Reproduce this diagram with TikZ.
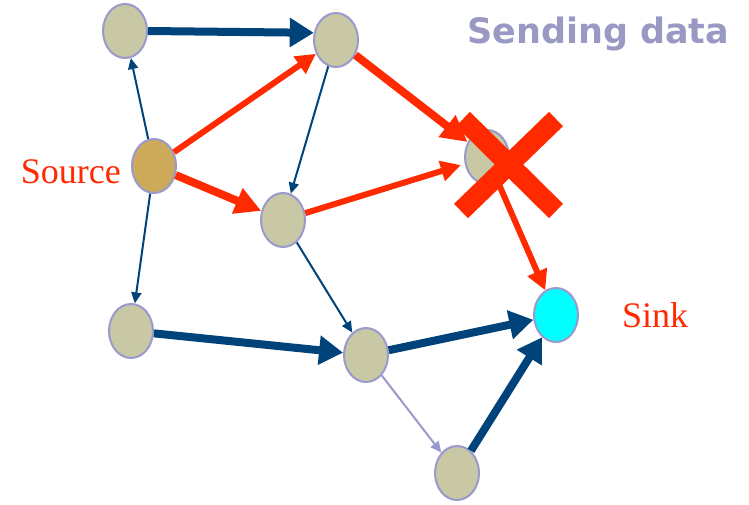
\documentclass[tikz,border=0pt]{standalone}
\usepackage{fontspec}
\setmainfont{Liberation Serif}
\newfontfamily\titlefont{DejaVu Sans}
\usetikzlibrary{arrows.meta,shapes.geometric}
\definecolor{nodefill}{RGB}{200,200,164}
\definecolor{nodeedge}{RGB}{153,153,204}
\definecolor{srcfill}{RGB}{204,170,90}
\definecolor{sinkfill}{RGB}{0,255,255}
\definecolor{darkblue}{RGB}{0,66,122}
\definecolor{redline}{RGB}{255,42,0}
\definecolor{titlecol}{RGB}{153,153,196}
\tikzset{
  vertex/.style={ellipse,draw=nodeedge,line width=2pt,fill=nodefill,minimum width=44pt,minimum height=54pt,inner sep=0pt},
  thickblue/.style={draw=darkblue,line width=8pt,-{Triangle[length=24pt,width=28pt]}},
  thinblue/.style={draw=darkblue,line width=2pt,-{Triangle[length=11pt,width=10pt]}},
  thinlav/.style={draw=nodeedge,line width=2pt,-{Triangle[length=11pt,width=10pt]}},
  redthick/.style={draw=redline,line width=8pt,-{Triangle[length=26pt,width=26pt]}},
  redmid/.style={draw=redline,line width=6pt,-{Triangle[length=20pt,width=20pt]}},
  lbl/.style={text=redline,font=\fontsize{36}{40}\selectfont,inner sep=0pt}
}
\begin{document}
\begin{tikzpicture}[x=1pt,y=-1pt]
\useasboundingbox (0,0) rectangle (749,504);
\node[vertex] (A) at (125,31) {};
\node[vertex] (B) at (336,40) {};
\node[vertex,fill=srcfill] (S) at (154,166) {};
\node[vertex] (C) at (283,220) {};
\node[vertex] (D) at (487,157) {};
\node[vertex] (E) at (131,331) {};
\node[vertex] (F) at (366,355) {};
\node[vertex,fill=sinkfill] (K) at (556,315) {};
\node[vertex] (G) at (457,473) {};

\draw[thickblue] (A.east) -- (B.162);
\draw[thinblue] (S) -- (A);
\draw[thinblue] (S) -- (E);
\draw[thinblue] (B) -- (C);
\draw[thinblue] (C) -- (F);
\draw[thinlav] (F) -- (G);
\draw[thickblue] (E) -- (F);
\draw[thickblue] (F) -- (K);
\draw[thickblue] (G) -- (K);

\draw[redmid] (S) -- (B);
\draw[redthick] (S) -- (C);
\draw[redthick] (B) -- (D);
\draw[redmid,shorten >=4pt] (C) -- (D);
\draw[redmid] (D) -- (K);

\coordinate (x1) at (463,119);
\coordinate (x2) at (556,211);
\coordinate (x3) at (556,119);
\coordinate (x4) at (461,211);
\draw[redline,line width=20pt] (x1) -- (x2);
\draw[redline,line width=20pt] (x3) -- (x4);

\node[lbl,anchor=base east] (srclbl) at (121,183) {Source};
\node[lbl,anchor=base west] (sinklbl) at (622,327) {Sink};
\node[text=titlecol,font=\titlefont\bfseries\fontsize{35}{40}\selectfont,inner sep=0pt,anchor=base west] (title) at (467,43) {Sending data};
\end{tikzpicture}
\end{document}
